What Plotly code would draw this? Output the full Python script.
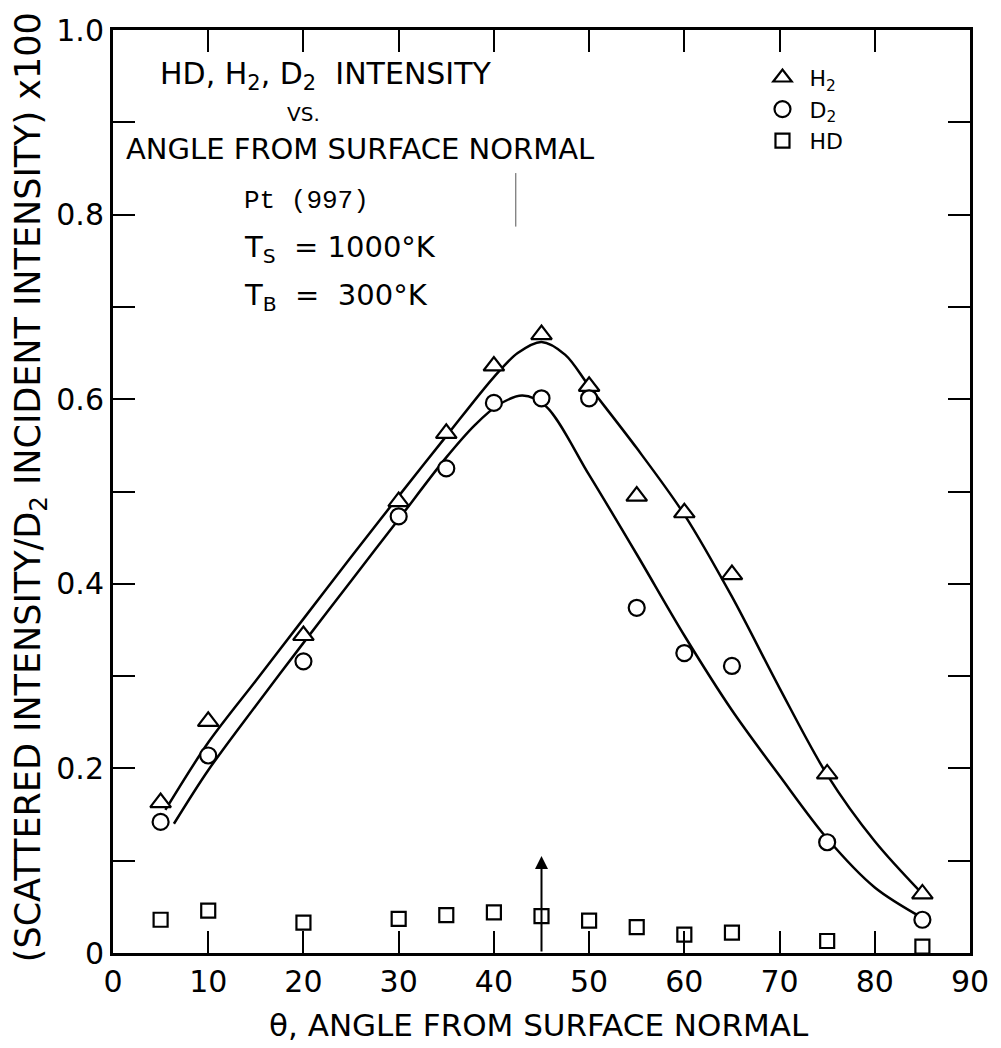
import plotly.graph_objects as go

# ---- data ----
angles = [5, 10, 20, 30, 35, 40, 45, 50, 55, 60, 65, 75, 85]
h2_vals = [0.163, 0.251, 0.344, 0.489, 0.563, 0.636, 0.670, 0.614, 0.495, 0.477, 0.410, 0.194, 0.064]
d2_vals = [0.142, 0.214, 0.316, 0.473, 0.525, 0.596, 0.601, 0.601, 0.374, 0.325, 0.311, 0.120, 0.036]
hd_vals = [0.036, 0.046, 0.033, 0.037, 0.041, 0.044, 0.040, 0.035, 0.028, 0.020, 0.022, 0.013, 0.007]

# hand-drawn smooth curves
h2_curve_x = [5.5, 10, 15, 20, 25, 30, 35, 40, 42.5, 45, 47.5, 50, 55, 60, 65, 70, 75, 80, 85]
h2_curve_y = [0.155, 0.228, 0.295, 0.362, 0.429, 0.495, 0.560, 0.624, 0.650, 0.662, 0.648, 0.614, 0.547,
              0.475, 0.386, 0.287, 0.193, 0.121, 0.064]
d2_curve_x = [6.4, 10, 15, 20, 25, 30, 35, 38, 40.5, 43, 45.5, 50, 55, 60, 65, 70, 75, 80, 85]
d2_curve_y = [0.140, 0.198, 0.268, 0.336, 0.403, 0.470, 0.537, 0.572, 0.594, 0.604, 0.592, 0.518, 0.432,
              0.344, 0.263, 0.192, 0.124, 0.071, 0.038]

x_ticks = [0, 10, 20, 30, 40, 50, 60, 70, 80, 90]
y_ticks = [0, 0.1, 0.2, 0.3, 0.4, 0.5, 0.6, 0.7, 0.8, 0.9, 1.0]
y_ticktext = ["0", "", "0.2", "", "0.4", "", "0.6", "", "0.8", "", "1.0"]

arrow_angle = 45
arrow_top = 0.105

W, H = 1001, 1048
L, R, T, B = 113, 29, 20, 95
PW, PH = W - L - R, H - T - B


def px(x):
    return (x - L) / PW


def py(y):
    return (H - B - y) / PH


SANS = "DejaVu Sans"

fig = go.Figure()

curve_line = dict(color="black", width=2.5, shape="spline", smoothing=0.9)
fig.add_trace(go.Scatter(x=h2_curve_x, y=h2_curve_y, mode="lines", line=curve_line,
                         showlegend=False, hoverinfo="skip"))
fig.add_trace(go.Scatter(x=d2_curve_x, y=d2_curve_y, mode="lines", line=curve_line,
                         showlegend=False, hoverinfo="skip"))

fig.add_trace(go.Scatter(x=angles, y=h2_vals, mode="markers", name=" H<sub>2</sub>",
                         marker=dict(symbol="triangle-up", size=18, color="white", line=dict(color="black", width=2.2))))
fig.add_trace(go.Scatter(x=angles, y=d2_vals, mode="markers", name=" D<sub>2</sub>",
                         marker=dict(symbol="circle", size=16, color="white", line=dict(color="black", width=2.2))))
fig.add_trace(go.Scatter(x=angles, y=hd_vals, mode="markers", name=" HD",
                         marker=dict(symbol="square", size=14, color="white", line=dict(color="black", width=2.2))))

axis_common = dict(showline=True, linecolor="black", linewidth=3, mirror="allticks", ticks="inside",
                   ticklen=22, tickwidth=2.2, tickcolor="black", showgrid=False, zeroline=False,
                   ticklabeloverflow="allow",
                   tickfont=dict(family=SANS, size=30, color="black"))

fig.update_xaxes(range=[0, 90], tickvals=x_ticks, ticktext=[str(v) for v in x_ticks], **axis_common)
fig.update_yaxes(range=[0, 1.0], tickvals=y_ticks, ticktext=y_ticktext, **axis_common)

# arrow at 45 deg
fig.add_annotation(x=arrow_angle, y=arrow_top, ax=arrow_angle, ay=0, xref="x", yref="y", axref="x", ayref="y",
                   text="", showarrow=True, arrowhead=2, arrowsize=1.3, arrowwidth=2, arrowcolor="black")

# faint vertical mark
fig.add_shape(type="line", x0=42.3, x1=42.3, y0=0.787, y1=0.845, xref="x", yref="y",
              line=dict(color="#555555", width=1))

texts = [
    ("HD, H<sub>2</sub>, D<sub>2</sub>  INTENSITY", 158, 66, 30, SANS),
    ("VS.", 285, 105, 20, SANS),
    ("ANGLE FROM SURFACE NORMAL", 124, 140, 29, SANS),
    ("Pt (997)", 242, 193, 26, "Liberation Mono"),
    ("T<sub>S</sub>  = 1000°K", 242, 241, 29, SANS),
    ("T<sub>B</sub>  =  300°K", 242, 290, 29, SANS),
]
for t, x, y, s, f in texts:
    fig.add_annotation(text=t, x=px(x), y=py(y), xref="paper", yref="paper", xanchor="left", yanchor="middle",
                       showarrow=False, font=dict(family=f, size=s, color="black"))

fig.add_annotation(text="(SCATTERED INTENSITY/D<sub>2</sub> INCIDENT INTENSITY) x100", textangle=-90,
                   x=px(30), y=py(482), xref="paper", yref="paper", xanchor="center", yanchor="middle",
                   showarrow=False, font=dict(family=SANS, size=35, color="black"))
fig.add_annotation(text="θ, ANGLE FROM SURFACE NORMAL",
                   x=px(540), y=py(1026), xref="paper", yref="paper", xanchor="center", yanchor="middle",
                   showarrow=False, font=dict(family=SANS, size=31, color="black"))

fig.update_layout(
    width=W, height=H,
    margin=dict(l=L, r=R, t=T, b=B),
    paper_bgcolor="white", plot_bgcolor="white",
    showlegend=True,
    legend=dict(x=px(764), y=py(47), xanchor="left", yanchor="top", bgcolor="rgba(0,0,0,0)",
                font=dict(family=SANS, size=22, color="black"), tracegroupgap=0, itemwidth=30),
)

fig.write_html("out.html")
